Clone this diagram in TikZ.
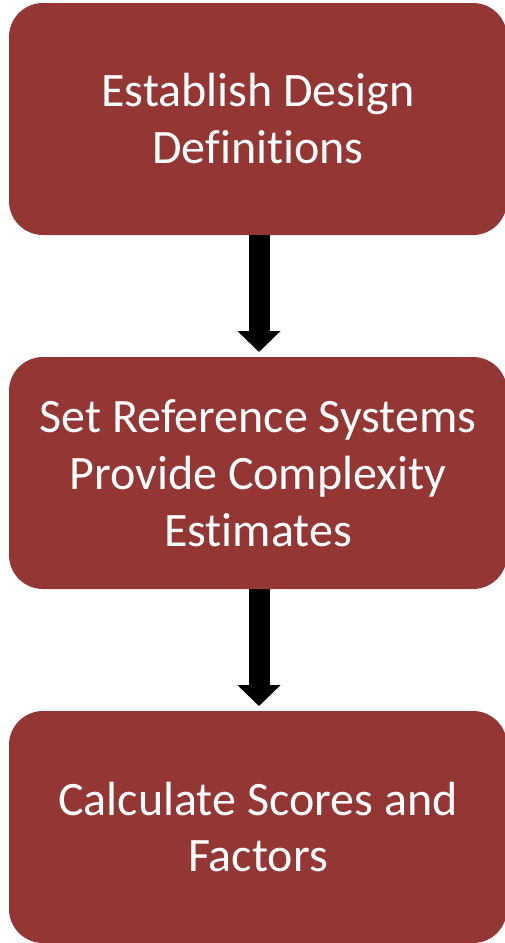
\documentclass[tikz,border=0pt]{standalone}
\usepackage{fontspec}
\setmainfont{Carlito}[Ligatures=NoCommon]
\usepackage{tikz}
\usetikzlibrary{positioning,arrows.meta}
\definecolor{boxred}{HTML}{943634}

\begin{document}
\begin{tikzpicture}[
    x=1pt, y=1pt,
    stage/.style={
        rectangle,
        fill=boxred,
        rounded corners=34pt,
        minimum width=498pt,
        minimum height=232pt,
        inner sep=0pt,
        outer sep=0pt,
        text=white,
        align=center,
        font=\fontsize{48}{57}\selectfont
    },
    flow/.style={
        line width=21pt,
        -{Triangle[width=42pt,length=21pt]}
    }
]

\useasboundingbox (0,0) rectangle (504,-943);

\node[stage] (define) at (258,-119)
{Establish Design\\Definitions};

\node[stage, below=122pt of define] (reference)
{Set Reference Systems\\Provide Complexity\\Estimates};

\node[stage, below=122pt of reference] (scores)
{Calculate Scores and\\Factors};

\draw[flow] ([xshift=1pt]define.south) -- ([xshift=1pt,yshift=5pt]reference.north);
\draw[flow] ([xshift=1pt]reference.south) -- ([xshift=1pt,yshift=5pt]scores.north);

\end{tikzpicture}
\end{document}
